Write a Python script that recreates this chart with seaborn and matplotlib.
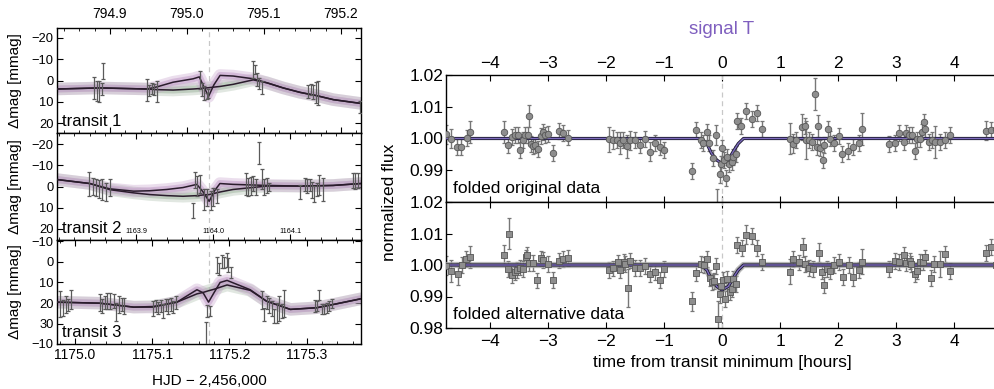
import matplotlib
matplotlib.use("Agg")
import matplotlib.pyplot as plt
import seaborn as sns
from matplotlib.ticker import MultipleLocator, FixedLocator, FixedFormatter, FormatStrFormatter

# ---------------- data: left panels (individual transits) ----------------
t1 = [794.8796, 794.8827, 794.8857, 794.8892, 794.8913, 794.9476, 794.9506, 794.9541, 794.9571,
      794.9606, 795.0169, 795.0191, 795.0221, 795.0256, 795.0277, 795.0861, 795.0883, 795.0905,
      795.0939, 795.0970, 795.1575, 795.1606, 795.1640, 795.1671, 795.1697, 795.2245]
m1 = [3.5, 4.9, 5.2, 3.8, -4.3, 4.6, 4.6, 3.8, 4.4, 5.2, -0.2, 4.3, 5.7, 7.3, 6.0, -5.2, -5.1,
      -0.5, 1.3, 3.3, 5.2, 4.4, 5.4, 5.7, 5.9, 12.5]
e1 = [5.2, 4.9, 4.9, 2.8, 3.8, 5.1, 2.7, 2.7, 2.6, 4.9, 4.3, 3.2, 3.3, 1.6, 2.1, 4.0, 2.2, 3.2,
      2.5, 3.0, 2.9, 2.6, 3.5, 4.9, 5.6, 2.7]

t2 = [1163.8393, 1163.8446, 1163.8481, 1163.8516, 1163.8558, 1163.8610, 1163.8662,
      1163.9737, 1163.9766, 1163.9796, 1163.9831, 1163.9887, 1163.9918, 1163.9970, 1164.0004, 1164.0048,
      1164.0424, 1164.0459, 1164.0489, 1164.0524, 1164.0554, 1164.0602, 1164.0632, 1164.0662, 1164.0697, 1164.0732,
      1164.1130, 1164.1195, 1164.1225, 1164.1260, 1164.1281, 1164.1312, 1164.1346, 1164.1381, 1164.1433,
      1164.1814, 1164.1844, 1164.1887]
m2 = [-1.1, -0.2, 0.6, 1.2, 1.6, 2.6, 0.5,
      11.4, -3.1, -0.2, -1.1, 6.2, 5.4, 6.6, 5.0, 4.6,
      -1.3, 0.3, -0.4, -1.3, 0.1, -15.8, -3.5, 0.3, -0.5, 0.3,
      2.7, -1.0, -0.3, -0.7, 1.7, 3.7, 1.4, -0.7, 1.4,
      -2.9, -2.5, -2.8]
e2 = [5.7, 4.0, 4.0, 4.2, 4.9, 4.4, 4.1,
      3.6, 3.7, 4.8, 4.1, 4.8, 4.0, 4.4, 4.4, 3.2,
      5.2, 4.4, 4.2, 3.6, 3.7, 5.3, 4.9, 3.6, 3.6, 2.0,
      3.2, 3.2, 3.3, 2.9, 3.7, 3.8, 3.2, 4.5, 5.6,
      3.6, 3.7, 3.4]

t3 = [1174.9806, 1174.9849, 1174.9883, 1174.9913, 1174.9944,
      1175.0324, 1175.0354, 1175.0389, 1175.0419, 1175.0453, 1175.0505, 1175.0531, 1175.0574, 1175.0604, 1175.0635,
      1175.1014, 1175.1049, 1175.1079, 1175.1110, 1175.1144, 1175.1174, 1175.1209, 1175.1240, 1175.1274, 1175.1308,
      1175.1697, 1175.1715, 1175.1749,
      1175.1835, 1175.1869, 1175.1900, 1175.1930, 1175.1965, 1175.1986, 1175.2021,
      1175.2418, 1175.2448, 1175.2483, 1175.2517, 1175.2548, 1175.2578, 1175.2613, 1175.2647, 1175.2678, 1175.2712,
      1175.3109, 1175.3139, 1175.3165, 1175.3196, 1175.3225, 1175.3260, 1175.3294, 1175.3325]
m3 = [20.4, 22.4, 20.8, 21.0, 18.2,
      19.8, 21.4, 19.7, 19.0, 18.9, 19.0, 24.2, 20.6, 20.6, 21.4,
      22.6, 21.4, 22.5, 21.3, 23.6, 21.0, 21.8, 20.6, 21.8, 19.8,
      40.0, 23.6, 23.7,
      1.6, 3.4, 0.0, 0.4, -0.9, 1.6, 5.3,
      18.5, 25.4, 19.8, 21.0, 22.6, 26.2, 24.6, 22.6, 23.8, 20.2,
      21.3, 21.4, 16.2, 23.0, 22.8, 22.2, 21.4, 20.2]
e3 = [6.1, 3.8, 4.1, 2.8, 4.4,
      4.0, 3.2, 3.3, 3.7, 3.8, 3.2, 4.4, 4.0, 3.2, 4.0,
      3.6, 2.9, 2.9, 3.0, 3.4, 2.8, 3.6, 3.2, 2.8, 3.2,
      11.0, 2.9, 2.5,
      4.0, 2.9, 3.2, 2.8, 3.2, 3.2, 2.6,
      4.5, 3.2, 3.2, 3.6, 3.6, 3.2, 4.8, 6.0, 3.2, 6.7,
      3.0, 2.4, 2.5, 2.4, 2.6, 2.4, 2.4, 2.0]

# model curves (left): with transit (purple) and without transit (grey)
mt1 = [794.831, 794.887, 794.948, 794.961, 794.982, 795.008, 795.016, 795.022, 795.028, 795.035,
       795.043, 795.060, 795.086, 795.104, 795.125, 795.147, 795.168, 795.190, 795.226]
mp1 = [4.0, 3.5, 4.0, 3.0, 0.8, -0.8, -1.7, 3.0, 7.5, 2.0, -2.4, -2.1, -0.8, 1.1, 3.5, 5.6, 7.1, 9.0, 10.8]
mg1 = [4.0, 3.5, 4.0, 4.3, 4.5, 4.0, 3.8, 3.6, 3.4, 3.1, 2.8, 1.8, -0.3, 1.1, 3.5, 5.6, 7.1, 9.0, 10.8]

mt2 = [1163.797, 1163.840, 1163.866, 1163.897, 1163.918, 1163.940, 1163.961, 1163.979, 1163.987,
       1163.995, 1164.002, 1164.009, 1164.026, 1164.070, 1164.113, 1164.156, 1164.192]
mp2 = [-3.3, -1.4, 1.1, 2.2, 2.0, 1.4, 0.5, -1.0, 2.5, 7.0, 2.0, -1.4, -1.0, -0.5, -0.2, -0.5, -1.4]
mg2 = [-3.3, -1.4, 1.5, 3.0, 3.8, 4.3, 4.6, 4.3, 4.0, 3.8, 3.2, 2.6, 1.4, -0.2, -0.2, -0.5, -1.4]

mt3 = [1174.977, 1175.032, 1175.076, 1175.101, 1175.132, 1175.158, 1175.166, 1175.173, 1175.180,
       1175.188, 1175.197, 1175.227, 1175.248, 1175.279, 1175.313, 1175.335, 1175.370]
mp3 = [19.5, 20.0, 21.9, 21.9, 19.5, 13.5, 15.0, 19.5, 15.0, 10.0, 9.0, 13.5, 19.0, 23.0, 22.2, 20.6, 17.9]
mg3 = [19.5, 20.0, 21.9, 21.6, 19.5, 15.5, 14.8, 14.0, 13.3, 12.3, 11.2, 13.8, 19.0, 23.0, 22.2, 20.6, 17.9]

transit_mid = [795.0286, 1163.9948, 1175.1736]
transit_names = ["transit 1", "transit 2", "transit 3"]
left_ticks = [[794.9, 795.0, 795.1, 795.2], [1163.9, 1164.0, 1164.1], [1175.0, 1175.1, 1175.2, 1175.3]]

# ---------------- data: right panels (folded) ----------------
top_t = ([-4.75, -4.66, -4.56, -4.49, -4.39, -4.34]
         + [-3.76, -3.69, -3.62, -3.57, -3.51, -3.47, -3.42, -3.39, -3.34, -3.32, -3.28, -3.25, -3.21,
            -3.16, -3.12, -3.08, -3.04, -3.00, -2.91, -2.81, -2.74, -2.65]
         + [-1.95, -1.87, -1.80, -1.76, -1.70, -1.64, -1.59, -1.50, -1.41, -1.33, -1.24, -1.16, -1.07, -1.00]
         + [-0.51, -0.45, -0.36, -0.32, -0.26, -0.22, -0.15, -0.11, -0.08, -0.03, -0.02, 0.00, 0.03,
            0.07, 0.08, 0.12, 0.17, 0.19, 0.24, 0.25, 0.32, 0.41, 0.51, 0.60, 0.69]
         + [1.17, 1.22, 1.28, 1.37, 1.42, 1.45, 1.50, 1.55, 1.60, 1.63, 1.66, 1.69, 1.73, 1.76, 1.82,
            1.86, 1.92, 2.01, 2.07, 2.17, 2.26, 2.35, 2.41]
         + [2.87, 2.97, 3.05, 3.13, 3.16, 3.22, 3.27, 3.33, 3.36, 3.40, 3.44, 3.48, 3.50, 3.56, 3.62,
            3.66, 3.75, 3.84, 3.92, 4.55, 4.63, 4.71])
top_f = ([1.0013, 1.0000, 0.9973, 0.9974, 1.0001, 1.0020]
         + [1.0020, 0.9980, 1.0006, 1.0010, 1.0010, 0.9964, 0.9994, 1.0010, 1.0012, 1.0072, 0.9983,
            0.9975, 0.9978, 0.9967, 1.0008, 1.0020, 1.0010, 1.0015, 0.9955, 1.0025, 1.0017, 1.0003]
         + [0.9997, 0.9996, 0.9996, 0.9985, 0.9994, 0.9975, 0.9994, 0.9994, 0.9978, 0.9999, 0.9959,
            0.9985, 0.9973, 0.9964]
         + [0.9897, 1.0028, 0.9994, 0.9985, 1.0020, 0.9985, 0.9939, 1.0011, 0.9770, 0.9889, 0.9920,
            0.9969, 0.9931, 0.9875, 0.9941, 0.9920, 0.9925, 0.9941, 0.9952, 1.0054, 1.0038, 1.0086,
            1.0062, 1.0080, 1.0030]
         + [1.0000, 0.9983, 0.9994, 1.0036, 1.0040, 0.9994, 0.9994, 0.9990, 1.0141, 0.9973, 1.0040,
            0.9971, 0.9931, 0.9980, 1.0030, 1.0000, 0.9985, 1.0007, 0.9952, 0.9960, 0.9973, 0.9985, 1.0030]
         + [0.9983, 0.9985, 1.0017, 0.9988, 1.0017, 1.0010, 1.0010, 0.9960, 0.9997, 0.9997, 1.0020,
            1.0052, 1.0030, 0.9988, 0.9994, 0.9990, 0.9988, 0.9994, 1.0010, 1.0025, 1.0028, 1.0030])
top_e = ([0.003, 0.003, 0.0025, 0.0025, 0.0025, 0.0035]
         + [0.0035, 0.0025, 0.0025, 0.0025, 0.0025, 0.0025, 0.0025, 0.0025, 0.0025, 0.0035, 0.0025,
            0.0025, 0.0025, 0.0025, 0.0025, 0.0025, 0.0025, 0.0025, 0.0025, 0.0025, 0.0025, 0.0025]
         + [0.004, 0.003, 0.0025, 0.0035, 0.0025, 0.0035, 0.003, 0.0025, 0.0025, 0.0025, 0.003,
            0.0025, 0.0025, 0.0025]
         + [0.0025, 0.0025, 0.0025, 0.0025, 0.0025, 0.0025, 0.0025, 0.003, 0.007, 0.003, 0.0025,
            0.0025, 0.0025, 0.0025, 0.0025, 0.0025, 0.0025, 0.0025, 0.0025, 0.0025, 0.0025, 0.0025,
            0.0025, 0.0025, 0.0025]
         + [0.005, 0.003, 0.0025, 0.004, 0.0025, 0.006, 0.0025, 0.0025, 0.005, 0.0025, 0.0035,
            0.0025, 0.0025, 0.0025, 0.0025, 0.0025, 0.0025, 0.0025, 0.0025, 0.0025, 0.0025, 0.0025, 0.005]
         + [0.0025, 0.0025, 0.0025, 0.0025, 0.0025, 0.0025, 0.0025, 0.0025, 0.0025, 0.0025, 0.0025,
            0.0025, 0.0025, 0.0025, 0.0025, 0.005, 0.0025, 0.0025, 0.0025, 0.003, 0.0025, 0.0025])

bot_t = ([-4.75, -4.66, -4.55, -4.48, -4.40, -4.33]
         + [-3.76, -3.68, -3.67, -3.61, -3.57, -3.53, -3.48, -3.42, -3.38, -3.35, -3.32, -3.26, -3.18,
            -3.11, -3.08, -3.00, -2.91, -2.81, -2.74, -2.65]
         + [-1.94, -1.87, -1.79, -1.75, -1.69, -1.67, -1.61, -1.59, -1.50, -1.41, -1.33, -1.24, -1.16,
            -1.07, -0.99]
         + [-0.51, -0.44, -0.36, -0.31, -0.25, -0.21, -0.17, -0.13, -0.10, -0.07, -0.03, -0.01, 0.02,
            0.06, 0.09, 0.13, 0.17, 0.19, 0.24, 0.25, 0.34, 0.41, 0.51, 0.60, 0.69]
         + [1.17, 1.22, 1.32, 1.40, 1.42, 1.49, 1.57, 1.67, 1.72, 1.75, 1.80, 1.86, 1.92, 2.01, 2.08,
            2.18, 2.26, 2.36, 2.41]
         + [2.87, 2.97, 3.05, 3.13, 3.17, 3.23, 3.26, 3.32, 3.36, 3.40, 3.46, 3.50, 3.59, 3.64, 3.75,
            3.84, 3.92, 4.55, 4.63, 4.71])
bot_f = ([0.9998, 0.9982, 0.9972, 1.0000, 1.0019, 1.0026]
         + [1.0032, 0.9987, 1.0100, 0.9968, 0.9977, 0.9985, 0.9992, 0.9987, 1.0024, 1.0031, 1.0006,
            1.0006, 0.9951, 1.0021, 1.0016, 1.0003, 0.9953, 1.0014, 1.0019, 1.0022]
         + [0.9985, 0.9989, 1.0008, 0.9985, 1.0010, 1.0003, 0.9926, 1.0014, 0.9990, 0.9990, 0.9996,
            0.9972, 0.9977, 0.9953, 0.9987]
         + [0.9885, 0.9974, 1.0004, 1.0001, 1.0019, 0.9958, 0.9945, 0.9950, 0.9996, 0.9827, 0.9908,
            0.9932, 0.9953, 0.9893, 0.9956, 0.9913, 0.9924, 0.9956, 0.9940, 1.0063, 1.0053, 1.0096,
            1.0093, 1.0053, 1.0010]
         + [0.9979, 1.0019, 1.0008, 1.0056, 1.0003, 0.9990, 0.9987, 1.0039, 0.9979, 0.9937, 0.9987,
            0.9982, 1.0000, 1.0010, 0.9963, 1.0000, 0.9963, 0.9985, 1.0010]
         + [0.9987, 1.0013, 1.0010, 1.0032, 1.0006, 1.0013, 1.0003, 0.9972, 0.9982, 1.0010, 1.0008,
            1.0024, 0.9958, 1.0003, 1.0003, 1.0035, 0.9982, 1.0038, 1.0058, 1.0000])
bot_e = ([0.003, 0.0035, 0.0035, 0.0025, 0.0025, 0.0035]
         + [0.003, 0.0025, 0.005, 0.0025, 0.0025, 0.0025, 0.0025, 0.0025, 0.0025, 0.0025, 0.0025,
            0.0025, 0.0025, 0.0025, 0.0025, 0.0025, 0.0025, 0.0025, 0.0025, 0.0025]
         + [0.0025, 0.0025, 0.0025, 0.0025, 0.0025, 0.0025, 0.006, 0.0025, 0.0025, 0.0025, 0.0025,
            0.0025, 0.0025, 0.0025, 0.0025]
         + [0.003, 0.0025, 0.0025, 0.0025, 0.0025, 0.0025, 0.0025, 0.0025, 0.0025, 0.006, 0.003,
            0.0025, 0.0025, 0.0025, 0.0025, 0.0025, 0.0025, 0.0025, 0.0025, 0.0025, 0.0025, 0.003,
            0.0025, 0.0025, 0.0025]
         + [0.004, 0.0025, 0.0025, 0.003, 0.0025, 0.0025, 0.0025, 0.003, 0.0025, 0.0025, 0.0025,
            0.0025, 0.0025, 0.0025, 0.0025, 0.0025, 0.003, 0.0025, 0.004]
         + [0.0025, 0.0025, 0.0025, 0.0025, 0.0025, 0.0025, 0.0025, 0.0025, 0.0025, 0.0025, 0.0025,
            0.0025, 0.0025, 0.0025, 0.004, 0.0025, 0.0025, 0.0025, 0.0025, 0.0025])

fold_model_t = [-4.75, -0.36, -0.26, -0.18, -0.09, 0.0, 0.11, 0.19, 0.28, 0.37, 4.75]
fold_model_f = [1.0, 1.0, 0.9984, 0.9953, 0.9932, 0.9921, 0.9932, 0.9958, 0.9984, 1.0, 1.0]

# ---------------- figure ----------------
sns.set_theme(style="ticks")
plt.rcParams['font.family'] = ['Liberation Sans', 'DejaVu Sans']
plt.rcParams['axes.unicode_minus'] = True

W, H = 995, 389
fig = plt.figure(figsize=(W / 100, H / 100), dpi=100)


def axes_px(x0, y0, x1, y1):
    return fig.add_axes([x0 / W, 1 - y1 / H, (x1 - x0) / W, (y1 - y0) / H])


def spines(ax):
    for s in ax.spines.values():
        s.set_visible(True)
        s.set_color('black')
        s.set_linewidth(1.0)


# ---- left panels ----
left_rows = [(28, 133), (133, 240), (240, 344)]
left_xlim = [(794.8312, 795.2260), (1163.7974, 1164.1922), (1174.9767, 1175.3705)]
left_ylim = [(24.7, -24.7), (25.2, -25.2), (39.7, -10.5)]
data_sets = [(t1, m1, e1), (t2, m2, e2), (t3, m3, e3)]
model_sets = [(mt1, mp1, mg1), (mt2, mp2, mg2), (mt3, mp3, mg3)]

for i, (y0, y1) in enumerate(left_rows):
    ax = axes_px(57, y0, 361, y1)
    spines(ax)
    ax.set_facecolor('white')
    mt, mp, mg = model_sets[i]
    ax.axvline(transit_mid[i], color='#c8c8c8', lw=0.9, ls=(0, (4, 3)), zorder=1)
    for yy, band in ((mg, '#a9bca9'), (mp, '#c6a2cc')):
        ax.plot(mt, yy, color=band, lw=9, alpha=0.35, solid_capstyle='round', zorder=2)
        ax.plot(mt, yy, color=band, lw=5, alpha=0.6, solid_capstyle='round', zorder=2)
        sns.lineplot(x=mt, y=yy, ax=ax, color='#2a1c2c', lw=1.1, sort=False,
                     estimator=None, legend=False, zorder=3)
    t, m, e = data_sets[i]
    ax.errorbar(t, m, yerr=e, fmt='none', ecolor='#5a5a5a', elinewidth=0.9,
                capsize=1.3, capthick=0.9, zorder=4)
    ax.set_xlim(*left_xlim[i])
    ax.set_ylim(*left_ylim[i])
    ax.set_xlabel('')
    ax.set_ylabel('')
    ax.xaxis.set_major_locator(FixedLocator(left_ticks[i]))
    ax.xaxis.set_major_formatter(FormatStrFormatter('%.1f'))
    ax.xaxis.set_minor_locator(MultipleLocator(0.02))
    ax.tick_params(axis='both', which='both', direction='in', top=True, bottom=True,
                   left=True, right=True, colors='black')
    ax.tick_params(axis='both', which='major', length=4, width=0.8)
    ax.tick_params(axis='both', which='minor', length=2, width=0.6)
    if i == 0:
        ax.tick_params(axis='x', labeltop=True, labelbottom=False, labelsize=10, pad=5)
    elif i == 1:
        ax.tick_params(axis='x', labeltop=False, labelbottom=True, labelsize=5.2, pad=-8.5)
    else:
        ax.tick_params(axis='x', labeltop=False, labelbottom=True, labelsize=10, pad=3)
    if i < 2:
        ax.yaxis.set_major_locator(FixedLocator([-20, -10, 0, 10, 20]))
    else:
        ax.yaxis.set_major_locator(FixedLocator([-10, 0, 10, 20, 30, 39.7]))
        ax.yaxis.set_major_formatter(FixedFormatter(['\u221210', '0', '10', '20', '30', '\u221210']))
    ax.tick_params(axis='y', labelsize=9.3, pad=2.5)
    ax.text(0.018, 0.035, transit_names[i], transform=ax.transAxes, fontsize=12,
            ha='left', va='bottom', color='black', zorder=6)
    fig.text(15 / W, 1 - (y0 + y1) / 2 / H, '\u0394mag [mmag]', rotation=90,
             ha='center', va='center', fontsize=11, color='black')

fig.text(209 / W, 1 - 381 / H, 'HJD \u2212 2,456,000', ha='center', va='center',
         fontsize=11, color='black')

# ---- right panels ----
right_rows = [(75, 202), (202, 328)]
right_sets = [(top_t, top_f, top_e, 'o', 'folded original data'),
              (bot_t, bot_f, bot_e, 's', 'folded alternative data')]
for j, (y0, y1) in enumerate(right_rows):
    ax = axes_px(446, y0, 998, y1)
    spines(ax)
    ax.set_facecolor('white')
    ax.axvline(0, color='#c8c8c8', lw=0.9, ls=(0, (4, 3)), zorder=1)
    t, f, e, mk, lab = right_sets[j]
    ax.errorbar(t, f, yerr=e, fmt='none', ecolor='#777777', elinewidth=1.0,
                capsize=1.6, capthick=0.9, zorder=2)
    if j == 1:
        ax.plot(fold_model_t, fold_model_f, color='#a6a6a6', lw=4.5, alpha=0.8, zorder=3)
    sns.lineplot(x=fold_model_t, y=fold_model_f, ax=ax, color='#1e1b33', lw=2.3,
                 sort=False, estimator=None, legend=False, zorder=4)
    sns.lineplot(x=fold_model_t, y=fold_model_f, ax=ax, color='#7d6bbd', lw=1.0,
                 sort=False, estimator=None, legend=False, zorder=5)
    sns.scatterplot(x=t, y=f, ax=ax, marker=mk, s=22, color='#8e8e8e',
                    edgecolor='#555555', linewidth=0.6, legend=False, zorder=6)
    ax.set_xlim(-4.75, 4.75)
    ax.set_ylim(0.98, 1.02)
    ax.set_xlabel('')
    ax.set_ylabel('')
    ax.xaxis.set_major_locator(MultipleLocator(1))
    ax.tick_params(axis='both', which='major', direction='in', length=4, width=0.8,
                   top=True, bottom=True, left=True, right=False, colors='black')
    if j == 0:
        ax.yaxis.set_major_locator(FixedLocator([0.99, 1.00, 1.01, 1.02]))
        ax.tick_params(axis='x', labeltop=True, labelbottom=False, labelsize=12.5, pad=3)
    else:
        ax.yaxis.set_major_locator(FixedLocator([0.98, 0.99, 1.00, 1.01, 1.02]))
        ax.tick_params(axis='x', labeltop=False, labelbottom=True, labelsize=12.5, pad=4)
    ax.yaxis.set_major_formatter(FormatStrFormatter('%.2f'))
    ax.tick_params(axis='y', labelsize=12.5, pad=2)
    ax.text(0.012, 0.05, lab, transform=ax.transAxes, fontsize=12.5, ha='left',
            va='bottom', color='black', zorder=7)

fig.text(390 / W, 1 - 202 / H, 'normalized flux', rotation=90, ha='center', va='center',
         fontsize=12.5, color='black')
fig.text(722 / W, 1 - 362 / H, 'time from transit minimum [hours]', ha='center', va='center',
         fontsize=12.5, color='black')
fig.text(722 / W, 1 - 30 / H, 'signal T', ha='center', va='center', fontsize=13.5,
         color='#7f5fbf')

fig.savefig('out.png', dpi=100)
